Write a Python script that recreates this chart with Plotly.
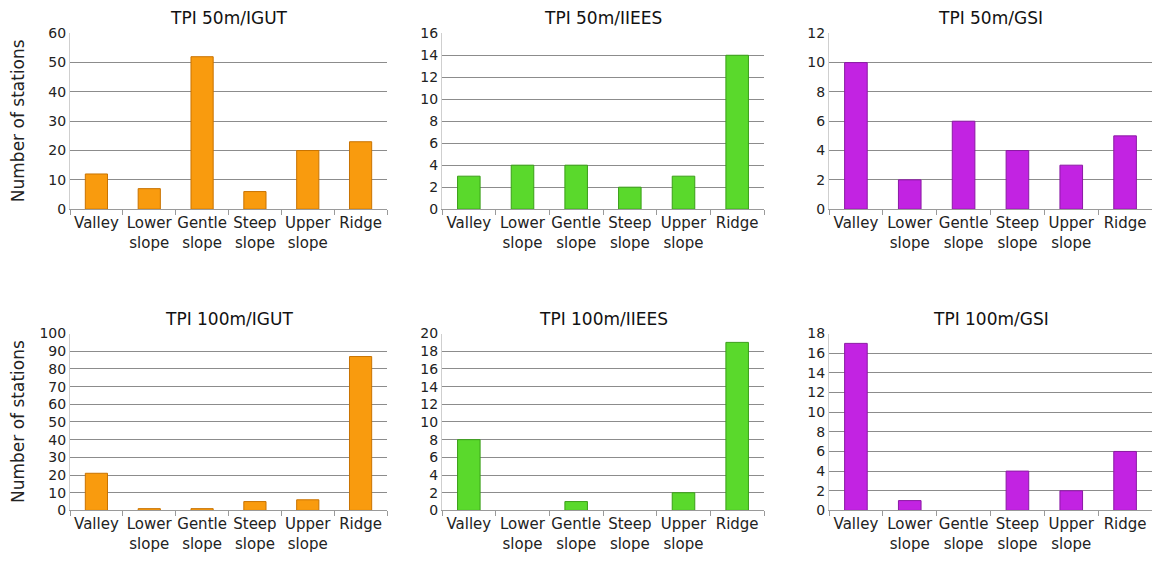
import plotly.graph_objects as go

categories = ["Valley", "Lower<br>slope", "Gentle<br>slope", "Steep<br>slope", "Upper<br>slope", "Ridge"]

tpi50_igut = [12, 7, 52, 6, 20, 23]
tpi50_iiees = [3, 4, 4, 2, 3, 14]
tpi50_gsi = [10, 2, 6, 4, 3, 5]
tpi100_igut = [21, 1, 1, 5, 6, 87]
tpi100_iiees = [8, 0, 1, 0, 2, 19]
tpi100_gsi = [17, 1, 0, 4, 2, 6]

titles = ["TPI 50m/IGUT", "TPI 50m/IIEES", "TPI 50m/GSI",
          "TPI 100m/IGUT", "TPI 100m/IIEES", "TPI 100m/GSI"]
series = [tpi50_igut, tpi50_iiees, tpi50_gsi, tpi100_igut, tpi100_iiees, tpi100_gsi]
y_max = [60, 16, 12, 100, 20, 18]
y_dtick = [10, 2, 2, 10, 2, 2]

W, H = 1156, 567
fills = ["#F99B0E", "#5AD92C", "#C223E2"]
edges = ["#C97300", "#3A9E18", "#8A1AA3"]

# pixel boxes of plot areas: (x0, x1, ytop, ybottom)
xcols = [(70, 387), (442, 764), (829, 1152)]
yrows = [(26, 207), (335, 517)]

FONT = "DejaVu Sans"
fig = go.Figure()
annotations = []
for i in range(6):
    r, c = divmod(i, 3)
    ax = "" if i == 0 else str(i + 1)
    x0, x1 = xcols[c]
    yt, yb = yrows[r]
    vals = series[i]
    fig.add_trace(go.Bar(
        x=categories, y=vals, xaxis="x" + ax, yaxis="y" + ax,
        width=0.42, showlegend=False,
        marker=dict(color=fills[c],
                    line=dict(color=edges[c], width=[1 if v > 0 else 0 for v in vals])),
    ))
    fig.layout["xaxis" + ax] = dict(
        domain=[x0 / W, x1 / W], anchor="y" + ax,
        showline=True, linecolor="#9a9a9a", linewidth=1,
        ticks="outside", tickson="boundaries", ticklen=5, tickcolor="#9a9a9a",
        tickangle=0,
        showgrid=False, tickfont=dict(family=FONT, size=15, color="#222"),
        fixedrange=True,
    )
    fig.layout["yaxis" + ax] = dict(
        domain=[1 - yb / H, 1 - yt / H], anchor="x" + ax,
        range=[0, y_max[i]], dtick=y_dtick[i], tick0=0,
        showgrid=True, gridcolor="#8c8c8c", gridwidth=1,
        showline=True, linecolor="#cfcfcf", linewidth=1,
        zeroline=False, ticks="",
        tickfont=dict(family=FONT, size=14, color="#222"),
        fixedrange=True,
    )
    annotations.append(dict(
        text=titles[i], xref="paper", yref="paper",
        x=(x0 + x1) / 2 / W, y=1 - (yt - 3) / H, xanchor="center", yanchor="bottom",
        showarrow=False, font=dict(family=FONT, size=17, color="#111"),
    ))
    if c == 0:
        annotations.append(dict(
            text="Number of stations", xref="paper", yref="paper",
            x=18 / W, y=1 - (yt + yb) / 2 / H, xanchor="center", yanchor="middle",
            textangle=-90, showarrow=False,
            font=dict(family=FONT, size=17, color="#222"),
        ))

fig.update_layout(
    width=W, height=H,
    margin=dict(l=0, r=0, t=0, b=0),
    paper_bgcolor="white", plot_bgcolor="white",
    bargap=0.58, annotations=annotations,
)
fig.write_html("out.html", config={"displayModeBar": False},
               post_script="document.body.style.margin='0';document.body.style.overflow='hidden';")
